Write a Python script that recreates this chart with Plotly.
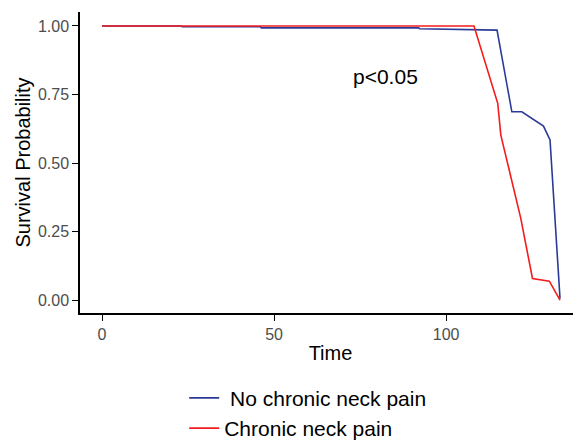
import plotly.graph_objects as go

# Data
time_no = [0, 23, 23.3, 46, 46.3, 92, 92.3, 114.8, 119.1, 122.0, 128.3, 130.2, 133.1]
surv_no = [1.0, 1.0, 0.997, 0.997, 0.993, 0.993, 0.99, 0.985, 0.687, 0.687, 0.635, 0.584, 0.006]

time_cnp = [0, 108.1, 115.0, 115.9, 121.7, 125.1, 130.0, 133.1]
surv_cnp = [1.0, 1.0, 0.718, 0.602, 0.298, 0.079, 0.069, 0.0]

x_ticks = [0, 50, 100]
y_ticks = [0, 0.25, 0.5, 0.75, 1.0]
y_tick_labels = ["0.00", "0.25", "0.50", "0.75", "1.00"]

FONT = "Liberation Sans, Arial"

fig = go.Figure()
fig.add_trace(go.Scatter(x=time_no, y=surv_no, mode="lines", name=" No chronic neck pain",
                         line=dict(color="#2b3a98", width=1.6)))
fig.add_trace(go.Scatter(x=time_cnp, y=surv_cnp, mode="lines", name="Chronic neck pain",
                         line=dict(color="#f21c1c", width=1.6)))

fig.add_annotation(x=82.5, y=0.815, text="p<0.05", showarrow=False,
                   font=dict(size=21, color="black", family=FONT))

# page body adds an 8px offset, so the figure is 8px smaller in each direction
fig.update_layout(
    width=573, height=432,
    margin=dict(l=72, r=0, t=4, b=127, autoexpand=False),
    plot_bgcolor="white", paper_bgcolor="white",
    font=dict(family=FONT, color="black"),
    showlegend=True,
    legend=dict(x=0.208, y=-0.215, xanchor="left", yanchor="top",
                font=dict(size=21, color="black", family=FONT), bgcolor="rgba(0,0,0,0)",
                tracegroupgap=0),
)
fig.update_xaxes(range=[-6.4, 139.2], tickvals=x_ticks, showgrid=False, zeroline=False,
                 showline=True, linecolor="black", linewidth=1.5, automargin=False,
                 ticks="outside", ticklen=6, tickcolor="black", tickwidth=1.2,
                 tickfont=dict(size=16, color="#4d4d4d"),
                 title=dict(text="Time", font=dict(size=20, color="black"), standoff=4))
fig.update_yaxes(range=[-0.047, 1.051], tickvals=y_ticks, ticktext=y_tick_labels,
                 showgrid=False, zeroline=False, automargin=False,
                 showline=True, linecolor="black", linewidth=1.5,
                 ticks="outside", ticklen=6, tickcolor="black", tickwidth=1.2,
                 tickfont=dict(size=16, color="#4d4d4d"),
                 title=dict(text="Survival Probability", font=dict(size=20, color="black"), standoff=2))

fig.write_html("out.html")
